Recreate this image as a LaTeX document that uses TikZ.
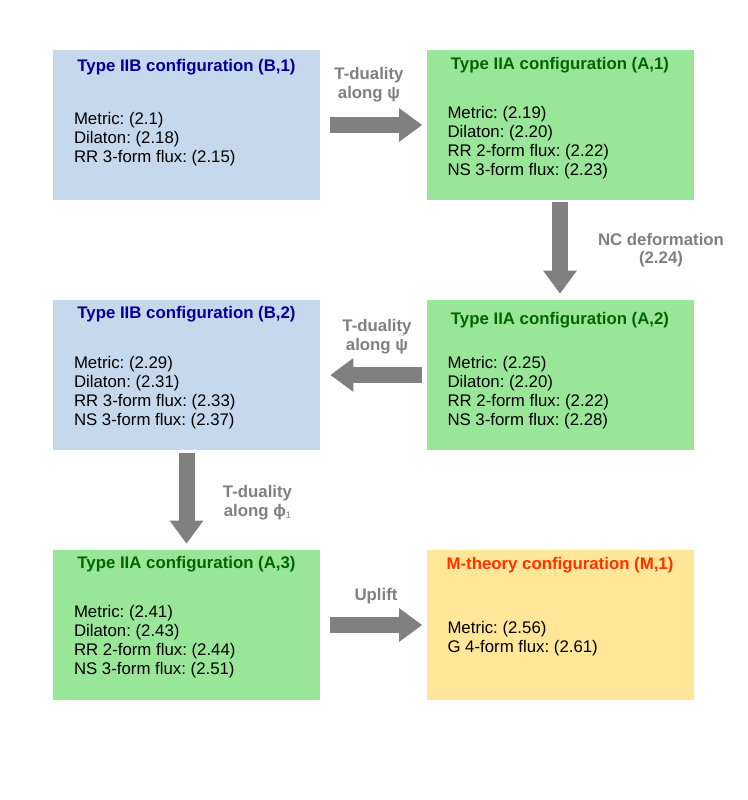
\documentclass[tikz,border=0pt]{standalone}
\usepackage{fontspec}
\setmainfont{Liberation Sans}
\usetikzlibrary{arrows.meta,calc}
\frenchspacing
\definecolor{boxblue}{HTML}{C6D9EC}
\definecolor{boxgreen}{HTML}{99E699}
\definecolor{boxyellow}{HTML}{FFE699}
\definecolor{tblue}{HTML}{000099}
\definecolor{tgreen}{HTML}{006600}
\definecolor{tred}{HTML}{FF3300}
\definecolor{agray}{HTML}{808080}
\definecolor{tildegray}{HTML}{B8B8B8}
\begin{document}
\frenchspacing
\begin{tikzpicture}[x=0.75pt,y=-0.75pt,
  cfgbox/.style={rectangle, inner sep=0pt, minimum width=200.25pt, minimum height=112.5pt},
  ttl/.style={font=\fontsize{12.6}{14.25}\selectfont\bfseries, anchor=base, inner sep=0pt},
  bodyline/.style={font=\fontsize{12.6}{14.25}\selectfont, anchor=base west, inner sep=0pt},
  lbl/.style={font=\fontsize{12.6}{14.25}\selectfont\bfseries, text=agray, anchor=base, inner sep=0pt},
  bigarrow/.style={draw=agray, line width=12pt, -{Triangle[length=17.25pt,width=24pt]}}]
\useasboundingbox (0,0) rectangle (747,800);

% boxes
\node[cfgbox, fill=boxblue]   (b1) at (186.5,125) {};
\node[cfgbox, fill=boxgreen]  (a1) at (560,125) {};
\node[cfgbox, fill=boxgreen]  (a2) at (560,375) {};
\node[cfgbox, fill=boxblue]   (b2) at (186.5,375) {};
\node[cfgbox, fill=boxgreen]  (a3) at (186.5,625) {};
\node[cfgbox, fill=boxyellow] (m1) at (560,625) {};

% titles
\node[ttl, text=tblue]  (b1t) at ($(b1.north)+(0,22)$) {Type IIB configuration (B,1)};
\node[ttl, text=tgreen] (a1t) at ($(a1.north)+(0,20)$) {Type IIA configuration (A,1)};
\node[ttl, text=tgreen] (a2t) at ($(a2.north)+(0,25)$) {Type IIA configuration (A,2)};
\node[ttl, text=tblue]  (b2t) at ($(b2.north)+(0,19)$) {Type IIB configuration (B,2)};
\node[ttl, text=tgreen] (a3t) at ($(a3.north)+(0,19)$) {Type IIA configuration (A,3)};
\node[ttl, text=tred]   (m1t) at ($(m1.north)+(0,20)$) {M-theory configuration (M,1)};

% bodies
\foreach \t [count=\i] in {Metric: (2.1), Dilaton: (2.18), RR 3-form flux: (2.15)}
  \node[bodyline] (b1l\i) at ($(b1.north west)+(21,56+19*\i)$) {\t};
\foreach \t [count=\i] in {Metric: (2.19), Dilaton: (2.20), RR 2-form flux: (2.22), NS 3-form flux: (2.23)}
  \node[bodyline] (a1l\i) at ($(a1.north west)+(21,50+19*\i)$) {\t};
\foreach \t [count=\i] in {Metric: (2.25), Dilaton: (2.20), RR 2-form flux: (2.22), NS 3-form flux: (2.28)}
  \node[bodyline] (a2l\i) at ($(a2.north west)+(21,50+19*\i)$) {\t};
\foreach \t [count=\i] in {Metric: (2.29), Dilaton: (2.31), RR 3-form flux: (2.33), NS 3-form flux: (2.37)}
  \node[bodyline] (b2l\i) at ($(b2.north west)+(21,50+19*\i)$) {\t};
\foreach \t [count=\i] in {Metric: (2.41), Dilaton: (2.43), RR 2-form flux: (2.44), NS 3-form flux: (2.51)}
  \node[bodyline] (a3l\i) at ($(a3.north west)+(21,49+19*\i)$) {\t};
\foreach \t [count=\i] in {Metric: (2.56), G 4-form flux: (2.61)}
  \node[bodyline] (m1l\i) at ($(m1.north west)+(21,65+19*\i)$) {\t};

% arrows
\draw[bigarrow, shorten <=7.5pt, shorten >=3pt] (b1.east) -- (a1.west);
\draw[bigarrow, shorten <=1.5pt, shorten >=4.5pt] (a1.south) -- (a2.north);
\draw[bigarrow, shorten <=3pt, shorten >=7.5pt] (a2.west) -- (b2.east);
\draw[bigarrow, shorten <=2.25pt, shorten >=4.5pt] (b2.south) -- (a3.north);
\draw[bigarrow, shorten <=7.5pt, shorten >=3pt] (a3.east) -- (m1.west);

% labels
\node[lbl] (l1a) at (369,79) {T-duality};
\node[lbl] (l1b) at (369,98) {along ψ};
\node[lbl] (l2a) at (377,331) {T-duality};
\node[lbl] (l2b) at (377,350) {along {\ooalign{ψ\cr\hidewidth\raisebox{0.62em}{\textcolor{tildegray}{\fontsize{9}{9}\selectfont\mdseries\char"007E}}\hidewidth\cr}}};
\node[lbl] (l3a) at (257.5,497) {T-duality};
\node[lbl] (l3b) at (257.5,516) {along ϕ\raisebox{-2pt}{\fontsize{7}{7}\selectfont\mdseries 1}};
\node[lbl] (l4a) at (661,245) {NC deformation};
\node[lbl] (l4b) at (661,263) {(2.24)};
\node[lbl] (l5) at (376,600) {Uplift};
\end{tikzpicture}
\end{document}
